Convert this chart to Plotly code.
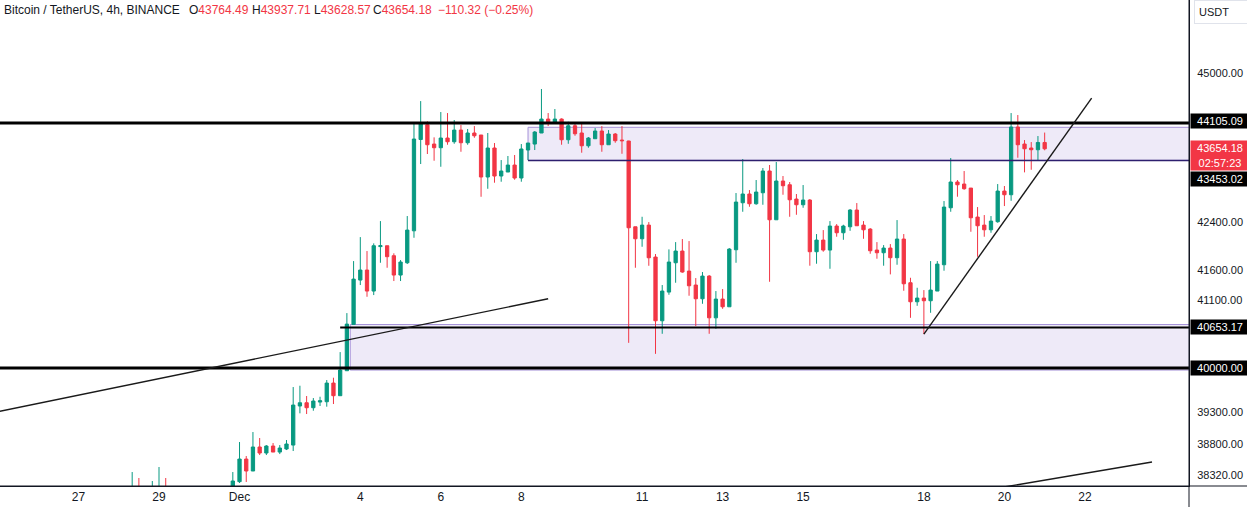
import numpy as np
import pandas as pd
import plotly.graph_objects as go

# ---------------- data (BTC/USDT, 4h bars) ----------------
bar_start = "2023-11-28 08:00"
opens = [37950, 38100, 37980, 37990, 38080, 38130, 37900, 37720, 37820, 37760, 37850, 37900, 37830, 37780, 37700,
         37780, 38228, 38574, 38391, 38760, 38667, 38775, 38682, 38729,
         38790, 39399, 39450, 39372, 39461, 39466, 39761, 39561, 39957, 40702,
         41428, 41594, 41247, 41985, 41999, 41832, 41511, 41715, 42250, 43816, 44075, 43737, 43673, 43842, 43777, 43982,
         43760, 43930, 43895, 43166, 43668, 43183, 43252, 43372, 43149, 43633, 43737, 43930, 44175, 44122, 44175, 43812,
         44057, 43930, 43707, 43830, 43965, 43725, 43912, 43807, 43790, 42318, 42116, 42346, 41810, 40761, 41230, 41715,
         41910, 41577, 41346, 41120, 41494, 40809, 41115, 40989, 41932, 42725, 42874, 42708, 42896, 43269, 42436, 43097,
         43033, 42788, 42691, 42771, 41899, 42094, 41927, 42330, 42217, 42318, 42601, 42346, 42279, 41927, 41882, 41960,
         41799, 42111, 41384, 41071, 41132, 41088, 41247, 41682, 42640, 43080, 43045, 42976, 42482, 42346, 42267, 42403,
         42925, 42862, 44035, 43737, 43668, 43638, 43764.49]
highs = [38375, 38284, 38120, 38238, 38452, 38284, 38050, 37880, 37950, 37900, 38000, 38020, 37960, 37900, 37850,
         38375, 38837, 38621, 38992, 38899, 38790, 38821, 38790, 38868,
         39698, 39719, 39556, 39524, 39545, 39809, 39846, 40255, 40886, 41743,
         42144, 41910, 42039, 42414, 41999, 41872, 41760, 42499, 44110, 44493, 44135, 43854, 44299, 44281, 44158, 44070,
         44000, 44052, 43895, 43930, 43755, 43459, 43529, 43546, 43737, 43755, 43965, 44708, 44281, 44352, 44188, 44128,
         44088, 44088, 43860, 44017, 44052, 43982, 43930, 44052, 43795, 42318, 42487, 42397, 41860, 41346, 41938, 42060,
         42111, 42077, 41461, 41561, 41511, 41247, 41280, 41960, 42891, 43477, 42942, 43114, 43321, 43373, 43425, 43183,
         43080, 42874, 43028, 42788, 42195, 42262, 42414, 42363, 42352, 42618, 42720, 42414, 42296, 42060, 42010, 42027,
         42431, 42195, 41466, 41301, 41263, 41743, 41743, 42754, 43494, 43114, 43269, 42976, 42652, 42516, 42499, 43045,
         43011, 44281, 44246, 43807, 43772, 43877, 43937.71]
lows = [37880, 37920, 37850, 37900, 37960, 37800, 37650, 37600, 37700, 37680, 37780, 37800, 37720, 37650, 37600,
        37750, 38208, 38223, 38391, 38636, 38636, 38682, 38651, 38713,
        38698, 39284, 39273, 39325, 39399, 39388, 39430, 39561, 39957, 40702,
        41346, 41153, 41181, 41715, 41632, 41412, 41412, 41694, 42133, 43390, 43564, 43447, 43343, 43725, 43742, 43603,
        43725, 43847, 42827, 42964, 43068, 43085, 43252, 43119, 43085, 43459, 43633, 43930, 44052, 44088, 43725, 43742,
        43882, 43586, 43673, 43830, 43603, 43725, 43760, 43568, 40404, 41632, 41982, 41665, 40227, 40550, 41186, 41384,
        41549, 41170, 40675, 41038, 40550, 40631, 40956, 40989, 41715, 42572, 42657, 42691, 42691, 41400, 42436, 42862,
        42487, 42521, 42640, 41666, 41699, 41899, 41615, 42150, 42099, 42250, 42335, 42116, 41865, 41782, 41666, 41522,
        41682, 41252, 40809, 41005, 40545, 40891, 41247, 41583, 42572, 42828, 42947, 42234, 41815, 42150, 42217, 42386,
        42669, 42759, 43499, 43246, 43291, 43447, 43628.57]
closes = [38100, 37980, 38000, 38080, 38130, 37900, 37720, 37820, 37760, 37850, 37900, 37830, 37780, 37700, 37780,
          38238, 38574, 38391, 38760, 38667, 38775, 38682, 38744, 38806,
          39414, 39450, 39372, 39477, 39482, 39761, 39561, 39968, 40707, 41444,
          41594, 41247, 41999, 42000, 41816, 41511, 41727, 42262, 43825, 44088, 43725, 43673, 43842, 43777, 43982, 43760,
          43930, 43882, 43166, 43668, 43183, 43269, 43372, 43149, 43651, 43755, 43947, 44175, 44122, 44175, 43812, 44057,
          43917, 43707, 43842, 43965, 43725, 43912, 43795, 43795, 42301, 42116, 42346, 41798, 40761, 41247, 41727, 41910,
          41561, 41334, 41120, 41494, 40809, 41115, 40989, 41943, 42737, 42874, 42708, 42908, 43269, 42436, 43097, 43016,
          42776, 42691, 42771, 41899, 42094, 41927, 42330, 42217, 42330, 42601, 42335, 42267, 41915, 41882, 41960, 41799,
          42111, 41367, 41071, 41132, 41088, 41263, 41693, 42652, 43080, 43033, 42965, 42470, 42335, 42267, 42414, 42925,
          42862, 44035, 43725, 43655, 43638, 43764.50, 43654.18]

# horizontal levels / zones drawn on the chart (prices)
level_top = 44105.09
level_bottom = 40000.00
level_support = 40653.17
level_zone_line = 43453.02
upper_zone = ("2023-12-08 04:00", 43453.02, 44030)
lower_zone = ("2023-12-03 18:00", 39968, 40700)
support_line_start = "2023-12-03 12:00"
zone_line_start = "2023-12-08 04:00"

# trend lines: (time, price) endpoints
trend_long = [("2023-11-25 00:00", 39310), ("2023-12-08 16:00", 41120)]
trend_low = [("2023-12-17 08:00", 37874), ("2023-12-23 16:00", 38528)]
trend_up = [("2023-12-18 00:00", 40545), ("2023-12-22 04:00", 44546)]

# axis ticks
y_ticks = [45000, 42400, 41600, 41100, 39300, 38800, 38320]
x_tick_dates = ["2023-11-27", "2023-11-29", "2023-12-01", "2023-12-04", "2023-12-06", "2023-12-08",
                "2023-12-11", "2023-12-13", "2023-12-15", "2023-12-18", "2023-12-20", "2023-12-22"]
x_tick_text = ["27", "29", "Dec", "4", "6", "8", "11", "13", "15", "18", "20", "22"]
countdown = "02:57:23"

# ---------------- styling ----------------
GREEN = "#089981"
RED = "#f23645"
INK = "#131722"
FONT = "Liberation Sans"
BOX_FILL = "#eeeaf8"
BOX_EDGE = "#a592d8"
ZONE_LINE = "#2d1f6e"

W, H = 1247, 507
ML, MR, MT, MB = 0, 58, 0, 21
PW, PH = W - ML - MR, H - MT - MB

times = pd.date_range(bar_start, periods=len(opens), freq="4h")

fig = go.Figure()
fig.add_trace(go.Candlestick(
    x=times, open=opens, high=highs, low=lows, close=closes,
    increasing=dict(line=dict(color=GREEN, width=1), fillcolor=GREEN),
    decreasing=dict(line=dict(color=RED, width=1), fillcolor=RED),
    whiskerwidth=0, showlegend=False, hoverinfo="skip",
))

far_right = "2024-01-10"
shapes = []
# zones
for start, lo, hi in (upper_zone, lower_zone):
    shapes.append(dict(type="rect", xref="x", yref="y", x0=start, x1=far_right, y0=lo, y1=hi,
                       fillcolor=BOX_FILL, line=dict(color=BOX_EDGE, width=1), layer="below"))
# levels
shapes.append(dict(type="line", xref="paper", yref="y", x0=0, x1=1, y0=level_top, y1=level_top,
                   line=dict(color="black", width=3)))
shapes.append(dict(type="line", xref="paper", yref="y", x0=0, x1=1, y0=level_bottom, y1=level_bottom,
                   line=dict(color="black", width=3)))
shapes.append(dict(type="line", xref="x", yref="y", x0=support_line_start, x1=far_right,
                   y0=level_support, y1=level_support, line=dict(color="black", width=2)))
shapes.append(dict(type="line", xref="x", yref="y", x0=zone_line_start, x1=far_right,
                   y0=level_zone_line, y1=level_zone_line, line=dict(color=ZONE_LINE, width=1.5)))
# trend lines
for (t0, p0), (t1, p1) in (trend_long, trend_low, trend_up):
    shapes.append(dict(type="line", xref="x", yref="y", x0=t0, x1=t1, y0=p0, y1=p1,
                       line=dict(color="#1a1a1a", width=1.4)))
# axis frame extensions (under the price scale / below time scale)
shapes.append(dict(type="line", xref="paper", yref="paper", x0=0, x1=W / PW, y0=0, y1=0,
                   line=dict(color=INK, width=1)))
shapes.append(dict(type="line", xref="paper", yref="paper", x0=1, x1=1, y0=-MB / PH, y1=1,
                   line=dict(color=INK, width=1)))

annotations = []


def px(xpix):
    return xpix / PW


def py(ypix):
    return (PH - ypix) / PH


# header
hdr_y = py(10)
annotations.append(dict(x=px(2), y=hdr_y, xref="paper", yref="paper", xanchor="left", yanchor="middle",
                        text="Bitcoin / TetherUS, 4h, BINANCE", showarrow=False,
                        font=dict(family=FONT, size=12, color=INK)))
chg = closes[-1] - closes[-2]
pct = chg / closes[-2] * 100
val_color = RED if closes[-1] < opens[-1] else GREEN
sign = "\u2212" if chg < 0 else "+"
for xpix, letter, val in ((187, "O", opens[-1]), (250, "H", highs[-1]), (312, "L", lows[-1]), (371, "C", closes[-1])):
    annotations.append(dict(x=px(xpix), y=hdr_y, xref="paper", yref="paper", xanchor="left", yanchor="middle",
                            text=f"{letter}<span style='color:{val_color}'>{val:.2f}</span>", showarrow=False,
                            font=dict(family=FONT, size=12, color=INK)))
annotations.append(dict(x=px(436), y=hdr_y, xref="paper", yref="paper", xanchor="left", yanchor="middle",
                        text=f"{sign}{abs(chg):.2f} ({sign}{abs(pct):.2f}%)", showarrow=False,
                        font=dict(family=FONT, size=12, color=val_color)))

# USDT box
annotations.append(dict(x=px(1194), y=py(12), xref="paper", yref="paper", xanchor="left", yanchor="middle",
                        text="USDT", showarrow=False, bgcolor="white", bordercolor="#e0e3eb", borderwidth=1,
                        borderpad=4, width=52, height=14, align="left",
                        font=dict(family=FONT, size=11, color=INK)))


def price_label(price, text, bg, yshift=0, height=12):
    annotations.append(dict(x=1, y=np.log10(price), xref="paper", yref="y", xanchor="left", yanchor="middle",
                            xshift=1, yshift=yshift, text=text, showarrow=False, bgcolor=bg, borderpad=1,
                            width=56, height=height, align="center",
                            font=dict(family=FONT, size=11, color="white")))


price_label(level_top, f"{level_top:.2f}", "black", yshift=2)
price_label(closes[-1], f"{closes[-1]:.2f}<br>{countdown}", RED, yshift=-7, height=27)
price_label(level_zone_line, f"{level_zone_line:.2f}", "black", yshift=-19)
price_label(level_support, f"{level_support:.2f}", "black")
price_label(level_bottom, f"{level_bottom:.2f}", "black")

y_lo, y_hi = 38162, 46323
fig.update_layout(
    width=W, height=H,
    margin=dict(l=ML, r=MR, t=MT, b=MB, autoexpand=False),
    paper_bgcolor="white", plot_bgcolor="white",
    shapes=shapes, annotations=annotations,
    showlegend=False,
    xaxis=dict(
        type="date", range=["2023-11-25 01:12", "2023-12-24 14:03"],
        rangeslider=dict(visible=False), showgrid=False, zeroline=False,
        showline=True, linecolor=INK, linewidth=1, ticks="",
        tickmode="array", tickvals=x_tick_dates, ticktext=x_tick_text,
        tickfont=dict(family=FONT, size=12, color=INK),
    ),
    yaxis=dict(
        type="log", side="right", range=[np.log10(y_lo), np.log10(y_hi)],
        showgrid=False, zeroline=False, showline=True, linecolor=INK, linewidth=1, ticks="",
        tickmode="array", tickvals=y_ticks, ticktext=[f"{v:.2f}" for v in y_ticks],
        tickfont=dict(family=FONT, size=11, color=INK), ticklabelstandoff=5,
    ),
)

fig.write_html("out.html")
